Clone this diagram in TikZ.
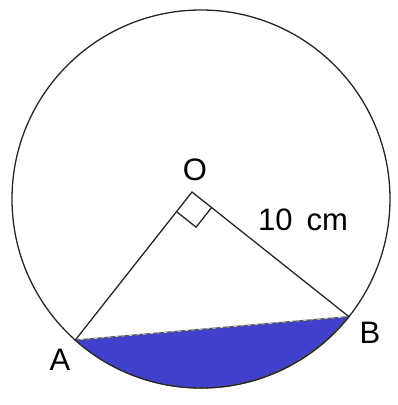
\documentclass[tikz,border=0pt]{standalone}
\usepackage{fontspec}
\setmainfont{Liberation Sans}
\usepackage{tikz}
\usetikzlibrary{calc}

\definecolor{segblue}{RGB}{64,64,204}

\begin{document}
\begin{tikzpicture}[x=1pt, y=1pt, line width=1.3pt,
    lbl/.style={font=\fontsize{31}{34}\selectfont, inner sep=0pt}]
    \useasboundingbox (0,0) rectangle (398,405);
    \coordinate (C) at (201,206);
    \coordinate (O) at (192,213);
    \coordinate (A) at ($(C)+(228.3:189)$);
    \coordinate (B) at ($(C)+(321.5:189)$);
    % shaded segment
    \fill[segblue] (A) arc[start angle=228.3, end angle=321.5, radius=189] -- cycle;
    \draw[black!65] (A) arc[start angle=228.3, end angle=321.5, radius=189] -- cycle;
    \draw[white, line width=0.5pt, dash pattern=on 3pt off 4pt] (A) arc[start angle=228.3, end angle=321.5, radius=189] -- cycle;
    \draw[black!85] (C) circle[radius=189];
    \draw[black!85] (A) -- (O) -- (B);
    % right angle
    \draw[black!85] ($(O)!25pt!(A)$) -- ($($(O)!25pt!(A)$)+($(O)!25pt!(B)$)-(O)$) -- ($(O)!25pt!(B)$);
    \node[lbl] (lblO) at (195,235) {O};
    \node[lbl] (lblR) at (303,185) {10\hspace{0.45em}cm};
    \node[lbl] (lblA) at (60,45) {A};
    \node[lbl] (lblB) at (370,72) {B};
\end{tikzpicture}
\end{document}
